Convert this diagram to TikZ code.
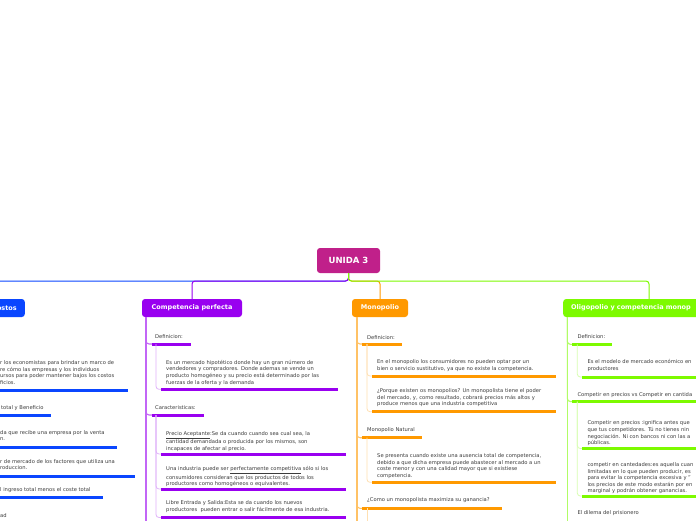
\documentclass[tikz,border=0pt]{standalone}
\usepackage{fontspec}
\setmainfont{DejaVu Sans}
\definecolor{rootc}{RGB}{192,32,138}
\definecolor{cpC}{RGB}{153,0,240}
\definecolor{coC}{RGB}{10,70,255}
\definecolor{moC}{RGB}{255,153,0}
\definecolor{olC}{RGB}{125,250,0}
\definecolor{txt}{RGB}{60,60,60}
\tikzset{
 rootbox/.style={fill=rootc, rounded corners=3pt, text=white, font=\bfseries\fontsize{8.5}{9}\selectfont, minimum width=63pt, minimum height=25pt, inner sep=0pt},
 topbox/.style={fill=#1, rounded corners=3pt, text=white, font=\bfseries\fontsize{6.5}{8}\selectfont, minimum height=18pt, inner xsep=8pt, inner ysep=0pt},
 lab/.style={anchor=west, inner sep=0pt, text=txt, font=\fontsize{5.2}{6.6}\selectfont},
 body/.style={anchor=north west, inner sep=0pt, align=left, text=txt, font=\fontsize{5.2}{6.6}\selectfont},
 bar/.style={draw=#1, line width=3pt},
 conn/.style={draw=#1, line width=1pt, rounded corners=3pt},
 stem/.style={draw=#1, line width=1.1pt, rounded corners=3pt},
 sub/.style={draw=#1, line width=0.8pt, rounded corners=3pt},
}
\begin{document}
\begin{tikzpicture}[x=1pt,y=-1pt]
\useasboundingbox (0,0) rectangle (696,520);
\clip (0,0) rectangle (696,520);
\fill[white] (0,0) rectangle (696,520);

% top nodes
\node[rootbox] (root) at (348.5,260.5) {UNIDA 3};
\coordinate (hub) at (348.5,281);
\node[topbox=coC, anchor=east, text width=94pt, align=right] (co) at (25,308) {Costos};
\node[topbox=cpC, minimum width=100pt] (cp) at (192,308) {Competencia perfecta};
\node[topbox=moC, minimum width=56pt] (mo) at (380,308) {Monopolio};
\node[topbox=olC, anchor=west, text width=150pt, align=left] (ol) at (563,308) {Oligopolio y competencia monop};
\coordinate (olTop) at (649,299);

% root connectors
\draw[conn=coC] (root.south) -- (hub) -- (co.north |- hub) -- (co.north);
\draw[conn=cpC] (root.south) -- (hub) -- (cp.north |- hub) -- (cp.north);
\draw[conn=moC] (root.south) -- (hub) -- (mo.north |- hub) -- (mo.north);
\draw[conn=olC] (root.south) -- (hub) -- (olTop |- hub) -- (olTop);

% ---------- Costos (left, cut off)
\node[body] (k1) at (0,360.3) {r los economistas para brindar un marco de\\re cómo las empresas y los individuos\\ursos para poder mantener bajos los costos\\ficios.};
\coordinate (k1a) at (-20,390); \coordinate (k1b) at (128,390);
\draw[bar=coC] (k1a) -- (k1b);
\node[lab] (k2) at (1,407.7) {total y Beneficio};
\coordinate (k2a) at (-20,415); \coordinate (k2b) at (51,415);
\draw[bar=coC] (k2a) -- (k2b);
\node[body] (k3) at (0,430) {da que recibe una empresa por la venta\\n.};
\coordinate (k3a) at (-20,447.7); \coordinate (k3b) at (117,447.7);
\draw[bar=coC] (k3a) -- (k3b);
\node[body] (k4) at (0,459) {r de mercado de los factores que utiliza una\\roduccion.};
\coordinate (k4a) at (-20,476.5); \coordinate (k4b) at (135,476.5);
\draw[bar=coC] (k4a) -- (k4b);
\node[lab] (k5) at (0,490) {l ingreso total menos el coste total};
\coordinate (k5a) at (-20,497.5); \coordinate (k5b) at (103,497.5);
\draw[bar=coC] (k5a) -- (k5b);
\node[lab] (k6) at (0,516) {ad};

% ---------- Competencia perfecta
\coordinate (cpS) at (146,317);
\coordinate (cpEnd) at (146,525);
\draw[stem=cpC!60] (cpS) -- (cpEnd);
\node[lab] (cpD) at (155,336.7) {Definicion:};
\coordinate (cpDa) at (152,344); \coordinate (cpDb) at (191,344);
\draw[stem=cpC!60] (cpS) |- (cpDa);
\draw[bar=cpC] (cpDa) -- (cpDb);
\coordinate (cpDv) at (156,344);
\node[body] (cpD1) at (166,360) {Es un mercado hipotético donde hay un gran número de\\vendedores y compradores. Donde ademas se vende un\\producto homogéneo y su precio está determinado por las\\fuerzas de la oferta y la demanda};
\coordinate (cpD1a) at (161,389.3); \coordinate (cpD1b) at (338,389.3);
\draw[sub=cpC!30] (cpDv) |- (cpD1a);
\draw[bar=cpC] (cpD1a) -- (cpD1b);

\node[lab] (cpC0) at (155,407.3) {Caracteristicas:};
\coordinate (cpCa) at (152,415); \coordinate (cpCb) at (204,415);
\draw[stem=cpC!60] (cpS) |- (cpCa);
\draw[bar=cpC] (cpCa) -- (cpCb);
\coordinate (cpCv) at (156,415);
\node[body] (cpC1) at (166,431.3) {\underline{Precio Aceptante}:Se da cuando cuando sea cual sea, la\\cantidad demandada o producida por los mismos, son\\incapaces de afectar al precio.};
\coordinate (cpC1a) at (161,454); \coordinate (cpC1b) at (346,454);
\draw[sub=cpC!30] (cpCv) |- (cpC1a);
\draw[bar=cpC] (cpC1a) -- (cpC1b);
\node[body] (cpC2) at (166,466.6) {Una industria puede ser \underline{perfectamente competitiva} sólo si los\\consumidores consideran que los productos de todos los\\productores como homogéneos o equivalentes.};
\coordinate (cpC2a) at (161,489); \coordinate (cpC2b) at (346,489);
\draw[sub=cpC!30] (cpCv) |- (cpC2a);
\draw[bar=cpC] (cpC2a) -- (cpC2b);
\node[body] (cpC3) at (166,500.6) {Libre Entrada y Salida:Esta se da cuando los nuevos\\productores\ \ pueden entrar o salir fácilmente de esa industria.};
\coordinate (cpC3a) at (161,517.5); \coordinate (cpC3b) at (346,517.5);
\draw[sub=cpC!30] (cpCv) |- (cpC3a);
\draw[bar=cpC] (cpC3a) -- (cpC3b);

% ---------- Monopolio
\coordinate (moS) at (357,317);
\coordinate (moEnd) at (357,525);
\draw[stem=moC!60] (moS) -- (moEnd);
\node[lab] (moD) at (367,337.5) {Definicion:};
\coordinate (moDa) at (362,344); \coordinate (moDb) at (401.7,344);
\draw[stem=moC!60] (moS) |- (moDa);
\draw[bar=moC] (moDa) -- (moDb);
\coordinate (moDv) at (367,344);
\node[body] (moD1) at (377,359.6) {En el monopolio los consumidores no pueden optar por un\\bien o servicio sustitutivo, ya que no existe la competencia.};
\coordinate (moD1a) at (372,376); \coordinate (moD1b) at (556,376);
\draw[sub=moC!30] (moDv) |- (moD1a);
\draw[bar=moC] (moD1a) -- (moD1b);
\node[body] (moD2) at (377,388.3) {¿Porque existen os monopolios? Un monopolista tiene el poder\\del mercado, y, como resultado, cobrará precios más altos y\\produce menos que una industria competitiva};
\coordinate (moD2a) at (372,411.7); \coordinate (moD2b) at (556,411.7);
\draw[sub=moC!30] (moDv) |- (moD2a);
\draw[bar=moC] (moD2a) -- (moD2b);

\node[lab] (moN) at (367,430) {Monopolio Natural};
\coordinate (moNa) at (362,437.7); \coordinate (moNb) at (421.7,437.7);
\draw[stem=moC!60] (moS) |- (moNa);
\draw[bar=moC] (moNa) -- (moNb);
\coordinate (moNv) at (367,437.7);
\node[body] (moN1) at (377,453.3) {Se presenta cuando existe una ausencia total de competencia,\\debido a que dicha empresa puede abastecer al mercado a un\\coste menor y con una calidad mayor que si existiese\\competencia.};
\coordinate (moN1a) at (372,482.3); \coordinate (moN1b) at (556,482.3);
\draw[sub=moC!30] (moNv) |- (moN1a);
\draw[bar=moC] (moN1a) -- (moN1b);

\node[lab] (moQ) at (367,500.5) {¿Como un monopolista maximiza su ganancia?};
\coordinate (moQa) at (362,508.3); \coordinate (moQb) at (501.7,508.3);
\draw[stem=moC!60] (moS) |- (moQa);
\draw[bar=moC] (moQa) -- (moQb);
\coordinate (moQv) at (367,508.3);
\coordinate (moQend) at (367,525);
\draw[sub=moC!30] (moQv) -- (moQend);

% ---------- Oligopolio
\coordinate (olS) at (567.3,317);
\coordinate (olEnd) at (567.3,525);
\draw[stem=olC!60] (olS) -- (olEnd);
\node[lab] (olD) at (577.3,337) {Definicion:};
\coordinate (olDa) at (572,344.3); \coordinate (olDb) at (611.7,344.3);
\draw[stem=olC!60] (olS) |- (olDa);
\draw[bar=olC] (olDa) -- (olDb);
\coordinate (olDv) at (577.3,344.3);
\node[body] (olD1) at (587.3,359.6) {Es el modelo de mercado económico en\\productores};
\coordinate (olD1a) at (582,377); \coordinate (olD1b) at (710,377);
\draw[sub=olC!30] (olDv) |- (olD1a);
\draw[bar=olC] (olD1a) -- (olD1b);

\node[lab] (olP) at (577.3,395) {Competir en precios vs Competir en cantida};
\coordinate (olPa) at (572,401.5); \coordinate (olPb) at (710,401.5);
\draw[stem=olC!60] (olS) |- (olPa);
\draw[bar=olC] (olPa) -- (olPb);
\coordinate (olPv) at (577.3,401.5);
\node[body] (olP1) at (587.3,420.8) {Competir en precios :ignifica antes que\\que tus competidores. Tú no tienes nin\\negociación. Ni con bancos ni con las a\\públicas.};
\coordinate (olP1a) at (582,448.5); \coordinate (olP1b) at (710,448.5);
\draw[sub=olC!30] (olPv) |- (olP1a);
\draw[bar=olC] (olP1a) -- (olP1b);
\node[body] (olP2) at (587.3,462.3) {competir en cantedades:es aquella cuan\\limitadas en lo que pueden producir, es\\para evitar la competencia excesiva y "\\los precios de este modo estarán por en\\marginal y podrán obtener ganancias.};
\coordinate (olP2a) at (582,496); \coordinate (olP2b) at (710,496);
\draw[sub=olC!30] (olPv) |- (olP2a);
\draw[bar=olC] (olP2a) -- (olP2b);

\node[lab] (olE) at (577.3,513) {El dilema del prisionero};
\end{tikzpicture}
\end{document}
